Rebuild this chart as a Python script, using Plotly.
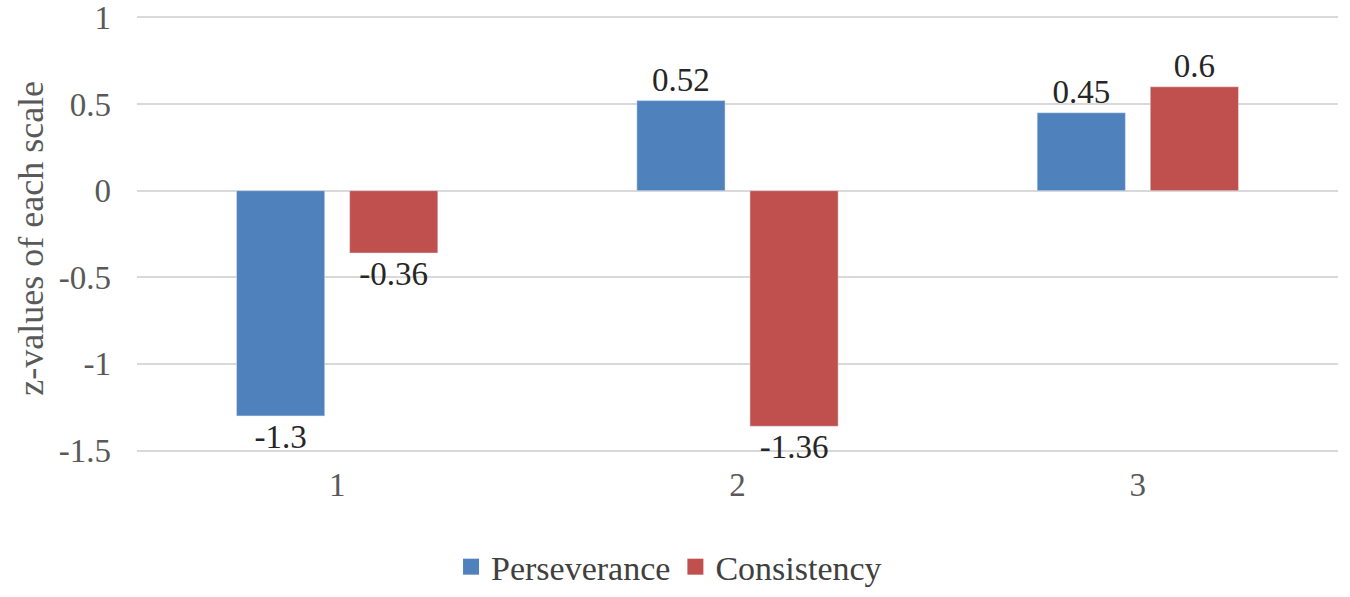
import plotly.graph_objects as go

categories = ["1", "2", "3"]
perseverance = [-1.3, 0.52, 0.45]
consistency = [-0.36, -1.36, 0.6]
y_ticks = [-1.5, -1, -0.5, 0, 0.5, 1]
y_tick_labels = ["-1.5", "-1", "-0.5", "0", "0.5", "1"]
series_names = ["Perseverance", "Consistency"]
series_colors = ["#4F81BD", "#C0504D"]
y_title = "z-values of each scale"

font_family = "'Liberation Serif', 'Times New Roman', serif"

fig = go.Figure()
for name, vals, color in zip(series_names, [perseverance, consistency], series_colors):
    fig.add_trace(go.Bar(
        x=categories, y=vals, name=name, showlegend=False,
        marker_color=color, text=[str(v) for v in vals],
        textposition="outside", cliponaxis=False,
        textfont=dict(family=font_family, size=33, color="#262626"),
    ))
# legend swatches
for name, color in zip(series_names, series_colors):
    fig.add_trace(go.Scatter(
        x=[None], y=[None], mode="markers", name=name,
        marker=dict(symbol="square", size=21, color=color),
    ))

fig.update_layout(
    width=1350, height=597,
    margin=dict(l=137, r=12, t=13.5, b=142.5, autoexpand=False),
    paper_bgcolor="white", plot_bgcolor="white",
    barmode="group", bargap=0.435, bargroupgap=0.22,
    font=dict(family=font_family, size=33, color="#595959"),
    legend=dict(orientation="h", x=0.443, xanchor="center",
                y=-0.257, yanchor="middle",
                font=dict(family=font_family, size=34, color="#404040"),
                itemsizing="trace", traceorder="normal", tracegroupgap=0),
    showlegend=True,
    annotations=[dict(
        text=y_title, textangle=-90, showarrow=False,
        xref="paper", yref="paper", x=-0.088, y=0.49,
        xanchor="center", yanchor="middle",
        font=dict(family=font_family, size=36, color="#595959"),
    )],
)
fig.update_yaxes(
    range=[-1.52, 1.02], tickvals=y_ticks, ticktext=y_tick_labels,
    showgrid=True, gridcolor="#D9D9D9", gridwidth=2, zeroline=False,
    ticks="", tickfont=dict(family=font_family, size=33, color="#595959"), ticklabelstandoff=25,
    automargin=False, ticklabeloverflow="allow",
)
fig.update_xaxes(
    showgrid=False, ticks="", showline=False, zeroline=False, automargin=False,
    tickfont=dict(family=font_family, size=33, color="#595959"), ticklabelstandoff=8,
)

fig.write_html("out.html", config={"displayModeBar": False},
               post_script="document.body.style.margin='0';")
